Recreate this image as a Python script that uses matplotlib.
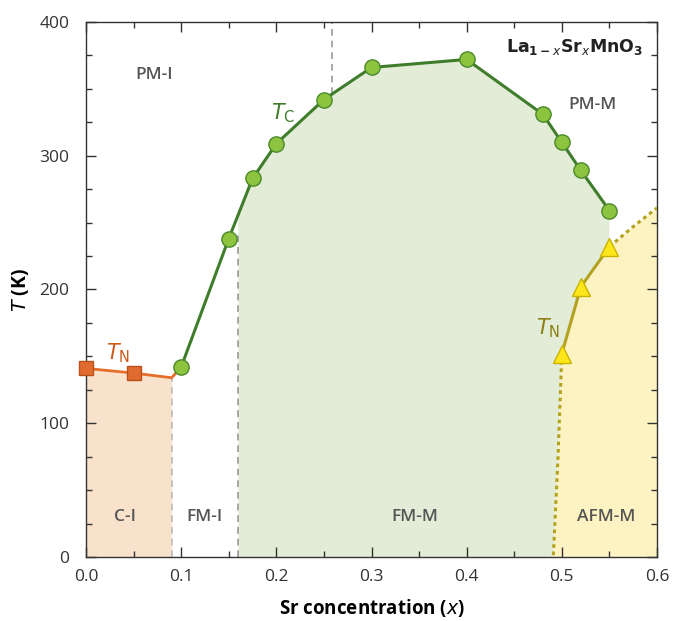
import matplotlib
matplotlib.use('Agg')
import numpy as np
import matplotlib.pyplot as plt
from matplotlib.ticker import MultipleLocator

plt.rcParams['font.family'] = 'Open Sans'
plt.rcParams['axes.edgecolor'] = '#333333'
plt.rcParams['axes.linewidth'] = 1.0
plt.rcParams['xtick.color'] = '#333333'
plt.rcParams['ytick.color'] = '#333333'

# Curie temperature (ferromagnetic transition)
tc_x = [0.10, 0.15, 0.175, 0.20, 0.25, 0.30, 0.40, 0.48, 0.50, 0.52, 0.55]
tc_t = [142, 238, 283, 309, 342, 366, 372, 331, 310, 289, 259]

# Neel temperature, low-doping side
tn_lo_x = [0.00, 0.05]
tn_lo_t = [141, 137.5]
tn_lo_line_x = [0.00, 0.05, 0.09, 0.10]
tn_lo_line_t = [141, 137.5, 134, 142]

# Neel temperature, high-doping side
tn_hi_x = [0.50, 0.52, 0.55]
tn_hi_t = [152, 202, 232]
afm_low_x = [0.50, 0.496, 0.491]
afm_low_t = [152, 75, 0]
afm_up_x = [0.55, 0.575, 0.60]
afm_up_t = [232, 247, 261]

# phase boundaries (dashed)
bound_ci = 0.09
bound_fm = 0.16
bound_pm = 0.258

phase_labels = ['PM-I', 'PM-M', 'C-I', 'FM-I', 'FM-M', 'AFM-M']
phase_x = [0.072, 0.532, 0.041, 0.125, 0.346, 0.547]
phase_t = [360, 338, 30, 30, 30, 30]

green_line = '#3f7d2c'
green_fill = '#8cc33f'
green_edge = '#4d8a2a'
orange = '#e56f2a'
olive = '#b3a220'
yellow = '#ffe61a'

fig = plt.figure(figsize=(6.74, 6.21), dpi=100)
ax = fig.add_axes([0.1276, 0.1031, 0.8472, 0.8615])

# region fills
ax.fill_between([0.0, bound_ci], 0, [tn_lo_t[0], 134], color='#f8e2cc', lw=0, zorder=0)
tc_at_fm = np.interp(bound_fm, tc_x, tc_t)
gx = [bound_fm, bound_fm] + [x for x in tc_x if x > bound_fm] + tn_hi_x[::-1] + afm_low_x[1:]
gt = [0, tc_at_fm] + [t for x, t in zip(tc_x, tc_t) if x > bound_fm] + tn_hi_t[::-1] + afm_low_t[1:]
ax.fill(gx, gt, color='#e2ecd6', lw=0, zorder=0)
yx = afm_low_x[::-1] + tn_hi_x[1:] + afm_up_x[1:] + [0.6]
yt = afm_low_t[::-1] + tn_hi_t[1:] + afm_up_t[1:] + [0]
ax.fill(yx, yt, color='#fdf3c2', lw=0, zorder=0)

# dashed boundaries
ax.plot([bound_ci, bound_ci], [0, 134], ls=(0, (4, 3)), color='#bbbbbb', lw=1.2, zorder=1)
ax.plot([bound_fm, bound_fm], [0, 244], ls=(0, (4, 3)), color='#999999', lw=1.2, zorder=1)
ax.plot([bound_pm, bound_pm], [np.interp(bound_pm, tc_x, tc_t), 400], ls=(0, (4, 3)),
        color='#999999', lw=1.2, zorder=1)

# transition lines
ax.plot(tc_x, tc_t, color=green_line, lw=2.2, zorder=3)
ax.plot(tc_x, tc_t, 'o', ms=11, mfc=green_fill, mec=green_edge, mew=1.0, zorder=4)
ax.plot(tn_lo_line_x, tn_lo_line_t, color=orange, lw=2.0, zorder=3)
ax.plot(tn_lo_x, tn_lo_t, 's', ms=10, mfc='#e06a30', mec='#b8511c', mew=1.0, zorder=4, clip_on=False)
ax.plot(tn_hi_x, tn_hi_t, color=olive, lw=2.2, zorder=3)
ax.plot(afm_low_x, afm_low_t, color=olive, lw=2.2, ls=(0, (1.2, 1.2)), zorder=3)
ax.plot(afm_up_x, afm_up_t, color=olive, lw=2.2, ls=(0, (1.2, 1.2)), zorder=3)
ax.plot(tn_hi_x, tn_hi_t, '^', ms=13, mfc=yellow, mec='#c9b300', mew=1.0, zorder=4)

# labels
for lab, x, t in zip(phase_labels, phase_x, phase_t):
    ax.text(x, t, lab, ha='center', va='center', fontsize=12.5, color='#555555',
            fontweight='semibold')
ax.text(0.207, 332, r'$\mathit{T}_\mathrm{C}$', color=green_line, fontsize=15,
        ha='center', va='center', family='DejaVu Sans')
ax.text(0.034, 152, r'$\mathit{T}_\mathrm{N}$', color='#cf5a1c', fontsize=15,
        ha='center', va='center', family='DejaVu Sans')
ax.text(0.485, 171, r'$\mathit{T}_\mathrm{N}$', color='#8c7e10', fontsize=15,
        ha='center', va='center', family='DejaVu Sans')
ax.text(0.513, 381, r'$\mathbf{La_{1-\mathit{x}}Sr_{\mathit{x}}MnO_3}$', fontsize=12.5,
        ha='center', va='center', color='#222222')

ax.set_xlim(0, 0.6)
ax.set_ylim(0, 400)
ax.xaxis.set_major_locator(MultipleLocator(0.1))
ax.xaxis.set_minor_locator(MultipleLocator(0.05))
ax.yaxis.set_major_locator(MultipleLocator(100))
ax.yaxis.set_minor_locator(MultipleLocator(25))
ax.xaxis.set_major_formatter(matplotlib.ticker.FormatStrFormatter('%.1f'))
ax.tick_params(which='both', direction='in', top=True, right=True, labelsize=12.5)
ax.tick_params(which='major', length=7, width=1.0)
ax.tick_params(which='minor', length=4, width=1.0)
ax.tick_params(axis='x', which='major', pad=9)
ax.tick_params(axis='y', which='major', pad=12)

ax.set_xlabel('Sr concentration ($\\mathbf{\\mathit{x}}$)', fontsize=13.5, fontweight='bold', labelpad=8)
ax.set_ylabel('$\\mathbf{\\mathit{T}}$ (K)', fontsize=14, fontweight='bold', labelpad=6)

plt.savefig('out.png', dpi=100)
